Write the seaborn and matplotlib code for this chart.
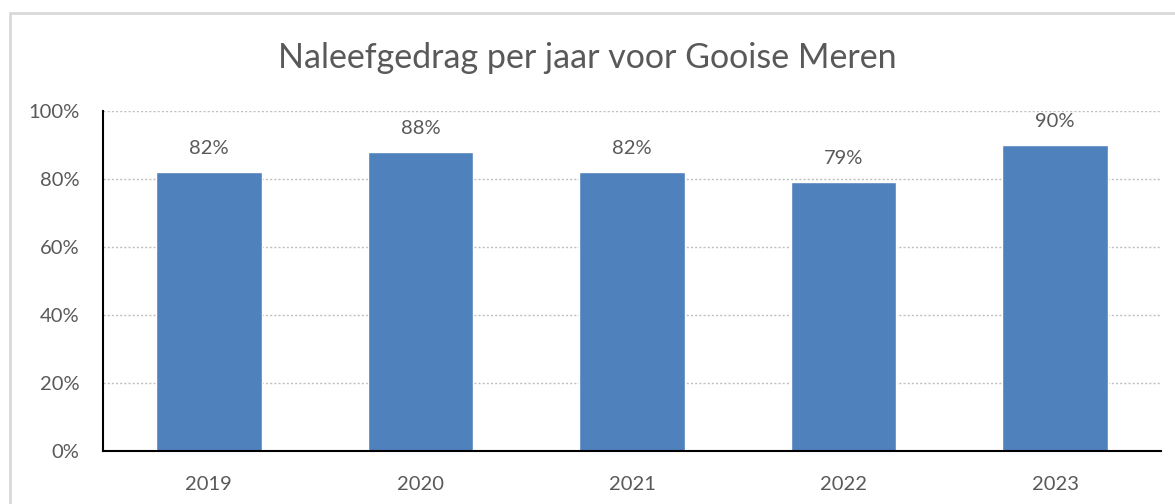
import matplotlib
matplotlib.use("Agg")
import matplotlib.pyplot as plt
import seaborn as sns
import pandas as pd
from matplotlib.patches import Rectangle
from matplotlib.ticker import PercentFormatter

jaren = ["2019", "2020", "2021", "2022", "2023"]
naleving = [82, 88, 82, 79, 90]
titel = "Naleefgedrag per jaar voor Gooise Meren"

df = pd.DataFrame({"jaar": jaren, "naleving": naleving})

sns.set_style("white")
plt.rcParams["font.family"] = ["Lato", "DejaVu Sans"]
tekst = "#595959"

fig = plt.figure(figsize=(11.75, 5.04), dpi=100)
ax = fig.add_axes([0.0877, 0.1052, 0.9003, 0.6746])

sns.barplot(data=df, x="jaar", y="naleving", color="#4F81BD", saturation=1,
            width=0.5, ax=ax)

ax.set_ylim(0, 100)
ax.set_xlim(-0.5, 4.5)
ax.set_yticks([0, 20, 40, 60, 80, 100])
ax.yaxis.set_major_formatter(PercentFormatter(decimals=0))
ax.grid(axis="y", color="#BFBFBF", linestyle=(0, (1.5, 1.5)), linewidth=1)
ax.set_axisbelow(True)
ax.set_xlabel("")
ax.set_ylabel("")
ax.tick_params(length=0, labelsize=14.5, colors=tekst)
ax.tick_params(axis="x", pad=18)
ax.tick_params(axis="y", pad=17)
for s in ["top", "right"]:
    ax.spines[s].set_visible(False)
for s in ["left", "bottom"]:
    ax.spines[s].set_color("black")
    ax.spines[s].set_linewidth(1.5)

for i, v in enumerate(naleving):
    ax.annotate(f"{v}%", (i, v), xytext=(0, 11), textcoords="offset points",
                ha="center", va="bottom", fontsize=14.5, color=tekst)

fig.text(0.5, 0.885, titel, ha="center", va="center", fontsize=24.5, color=tekst)

fig.patches.append(Rectangle((10 / 1175, -0.05), 1.1, 1 - 13 / 504 + 0.05,
                             transform=fig.transFigure, fill=False,
                             edgecolor="#D9D9D9", linewidth=2))

fig.savefig("out.png", dpi=100)
